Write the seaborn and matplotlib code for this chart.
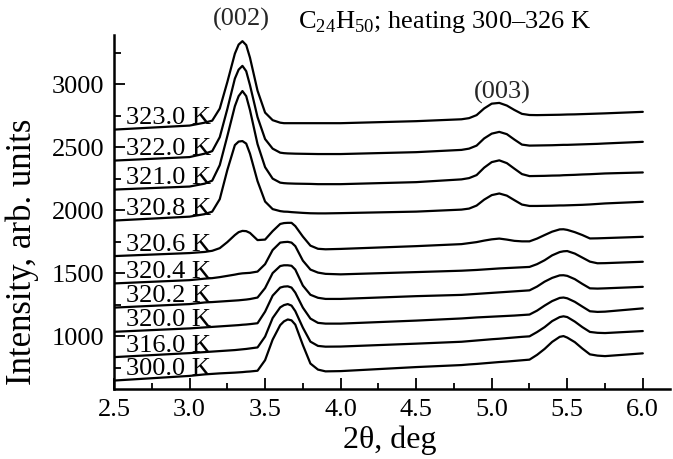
import matplotlib
matplotlib.use("Agg")
import matplotlib.pyplot as plt
from matplotlib.ticker import MultipleLocator
import pandas as pd
import seaborn as sns

# ---- data ----
two_theta = [2.5, 3.0, 3.1, 3.15, 3.2, 3.25, 3.3, 3.325, 3.35, 3.375, 3.4, 3.45, 3.5,
             3.55, 3.6, 3.625, 3.65, 3.675, 3.7, 3.75, 3.8, 3.85, 3.9, 4.0, 4.5, 4.8,
             4.85, 4.9, 4.95, 5.0, 5.05, 5.1, 5.15, 5.2, 5.25, 5.3, 5.35, 5.4, 5.45,
             5.475, 5.5, 5.55, 5.6, 5.65, 5.7, 5.75, 6.0]

temperatures = ["323.0 K", "322.0 K", "321.0 K", "320.8 K", "320.6 K",
                "320.4 K", "320.2 K", "320.0 K", "316.0 K", "300.0 K"]

i_323_0 = [2639, 2671, 2694, 2710, 2806, 3016, 3242, 3314, 3341, 3310, 3210, 2948, 2774,
           2714, 2694, 2690, 2690, 2690, 2690, 2690, 2690, 2690, 2690, 2690, 2706, 2721,
           2730, 2754, 2807, 2845, 2851, 2830, 2795, 2764, 2755, 2754, 2755, 2756, 2757,
           2758, 2759, 2760, 2762, 2764, 2766, 2768, 2780]
i_322_0 = [2393, 2421, 2448, 2468, 2579, 2802, 3044, 3115, 3145, 3103, 2992, 2738, 2564,
           2488, 2456, 2452, 2450, 2449, 2448, 2447, 2446, 2445, 2445, 2445, 2460, 2478,
           2488, 2512, 2569, 2607, 2621, 2603, 2560, 2520, 2512, 2513, 2514, 2515, 2517,
           2518, 2518, 2520, 2522, 2524, 2526, 2529, 2542]
i_321_0 = [2163, 2187, 2210, 2234, 2357, 2587, 2825, 2905, 2945, 2905, 2794, 2524, 2341,
           2250, 2218, 2214, 2212, 2211, 2210, 2209, 2208, 2206, 2206, 2206, 2222, 2244,
           2254, 2278, 2337, 2381, 2395, 2373, 2329, 2286, 2270, 2271, 2272, 2274, 2275,
           2277, 2278, 2280, 2283, 2285, 2288, 2291, 2299]
i_320_8 = [1917, 1948, 1968, 1988, 2087, 2318, 2516, 2544, 2548, 2528, 2448, 2230, 2068,
           2008, 1992, 1988, 1987, 1984, 1982, 1978, 1975, 1974, 1974, 1976, 1988, 2004,
           2012, 2036, 2083, 2119, 2132, 2115, 2079, 2044, 2033, 2033, 2034, 2035, 2037,
           2037, 2038, 2040, 2042, 2045, 2049, 2053, 2066]
i_320_6 = [1635, 1659, 1668, 1677, 1698, 1746, 1802, 1825, 1835, 1833, 1819, 1762, 1766,
           1833, 1890, 1897, 1899, 1899, 1873, 1790, 1718, 1693, 1689, 1692, 1714, 1730,
           1738, 1746, 1758, 1768, 1774, 1766, 1756, 1752, 1752, 1774, 1802, 1829, 1847,
           1848, 1843, 1825, 1802, 1775, 1776, 1778, 1788]
i_320_4 = [1418, 1444, 1456, 1460, 1468, 1478, 1488, 1494, 1498, 1500, 1502, 1512, 1571,
           1683, 1742, 1746, 1748, 1742, 1714, 1599, 1528, 1504, 1494, 1490, 1508, 1519,
           1522, 1525, 1529, 1533, 1537, 1540, 1543, 1546, 1549, 1571, 1602, 1641, 1667,
           1673, 1675, 1655, 1623, 1591, 1578, 1579, 1590]
i_320_2 = [1226, 1254, 1267, 1270, 1274, 1278, 1282, 1284, 1287, 1290, 1294, 1306, 1381,
           1500, 1556, 1562, 1562, 1558, 1528, 1401, 1328, 1304, 1295, 1295, 1317, 1327,
           1331, 1335, 1339, 1343, 1347, 1351, 1355, 1359, 1363, 1393, 1432, 1462, 1482,
           1483, 1478, 1452, 1414, 1379, 1377, 1379, 1391]
i_320_0 = [1034, 1061, 1069, 1073, 1077, 1081, 1085, 1087, 1090, 1092, 1095, 1102, 1194,
           1321, 1385, 1393, 1395, 1385, 1345, 1226, 1139, 1105, 1099, 1099, 1123, 1140,
           1144, 1148, 1151, 1154, 1157, 1160, 1163, 1167, 1171, 1202, 1242, 1278, 1303,
           1306, 1300, 1272, 1234, 1197, 1192, 1194, 1220]
i_316_0 = [833, 865, 873, 877, 881, 885, 889, 892, 895, 898, 902, 910, 996,
           1143, 1228, 1246, 1254, 1242, 1198, 1067, 956, 922, 916, 917, 940, 955,
           960, 965, 970, 975, 979, 984, 989, 994, 998, 1032, 1071, 1119, 1151,
           1157, 1151, 1115, 1071, 1033, 1026, 1024, 1040]
i_300_0 = [647, 684, 696, 700, 704, 707, 710, 712, 714, 717, 719, 725, 809,
           972, 1087, 1117, 1132, 1125, 1091, 929, 782, 734, 720, 722, 754, 770,
           775, 779, 784, 789, 794, 798, 803, 808, 813, 851, 898, 954, 994,
           1000, 988, 952, 901, 855, 845, 841, 863]

intensities = [i_323_0, i_322_0, i_321_0, i_320_8, i_320_6,
               i_320_4, i_320_2, i_320_0, i_316_0, i_300_0]

x_ticks = [2.5, 3.0, 3.5, 4.0, 4.5, 5.0, 5.5, 6.0]
y_ticks = [1000, 1500, 2000, 2500, 3000]

# ---- long-form table ----
rows = []
for t, vals in zip(temperatures, intensities):
    for x, v in zip(two_theta, vals):
        rows.append((t, x, v))
df = pd.DataFrame(rows, columns=["T", "two_theta", "intensity"])

# ---- style ----
sns.set_theme(style="ticks")
plt.rcParams["font.family"] = ["Liberation Serif", "DejaVu Serif"]
plt.rcParams["mathtext.fontset"] = "custom"
plt.rcParams["mathtext.rm"] = "Liberation Serif"
FS = 19
FS_XLAB = 23
FS_YLAB = 25

fig = plt.figure(figsize=(6.73, 4.59), dpi=100)
W, H = 673, 459
ax = fig.add_axes([114 / W, 1 - 389 / H, (670 - 114) / W, (389 - 35) / H])

sns.lineplot(data=df, x="two_theta", y="intensity", units="T", estimator=None,
             color="black", linewidth=1.6, sort=False, ax=ax, legend=False)
for line in ax.lines:
    line.set_solid_joinstyle("round")
    line.set_solid_capstyle("round")

ax.set_xlim(2.5, 6.18)
ax.set_ylim(580, 3390)
ax.set_xticks(x_ticks)
ax.set_xticklabels([f"{v:.1f}" for v in x_ticks])
ax.set_yticks(y_ticks)
ax.xaxis.set_minor_locator(MultipleLocator(0.25))
ax.yaxis.set_minor_locator(MultipleLocator(250))
ax.tick_params(which="both", direction="in", width=1.3, colors="black",
               labelsize=FS, top=False, right=False)
ax.tick_params(axis="x", which="major", length=8, pad=7)
ax.tick_params(axis="x", which="minor", length=4)
ax.tick_params(axis="y", which="major", length=8, pad=7)
ax.tick_params(axis="y", which="minor", length=5)
for side in ["top", "right"]:
    ax.spines[side].set_visible(False)
for side in ["left", "bottom"]:
    ax.spines[side].set_linewidth(1.8)
    ax.spines[side].set_color("black")

ax.set_xlabel("")
ax.set_ylabel("")
fig.text(390 / W, 1 - 440 / H, "2θ, deg", ha="center", va="center",
         fontsize=FS_XLAB, color="black")
fig.text(22 / W, 1 - 252 / H, "Intensity, arb. units", rotation=90,
         ha="center", va="center", fontsize=FS_YLAB, color="black")

# temperature labels sitting on the left end of each curve
for t, vals in zip(temperatures, intensities):
    ax.annotate(t, xy=(2.58, vals[0]), xytext=(0, 4), textcoords="offset points",
                ha="left", va="baseline", fontsize=FS, color="black")

# peak labels and title
ax.annotate("(002)", xy=(3.34, i_323_0[8]), xytext=(0, 11), textcoords="offset points",
            ha="center", va="baseline", fontsize=FS, annotation_clip=False)
ax.annotate("(003)", xy=(5.07, i_323_0[30]), xytext=(0, 3), textcoords="offset points",
            ha="center", va="baseline", fontsize=FS, annotation_clip=False)
fig.text(298 / W, 1 - 28 / H,
         r"C$_{\mathregular{24}}$H$_{\mathregular{50}}$; heating 300–326 K",
         ha="left", va="baseline", fontsize=FS, color="black")

fig.savefig("out.png", dpi=100)
